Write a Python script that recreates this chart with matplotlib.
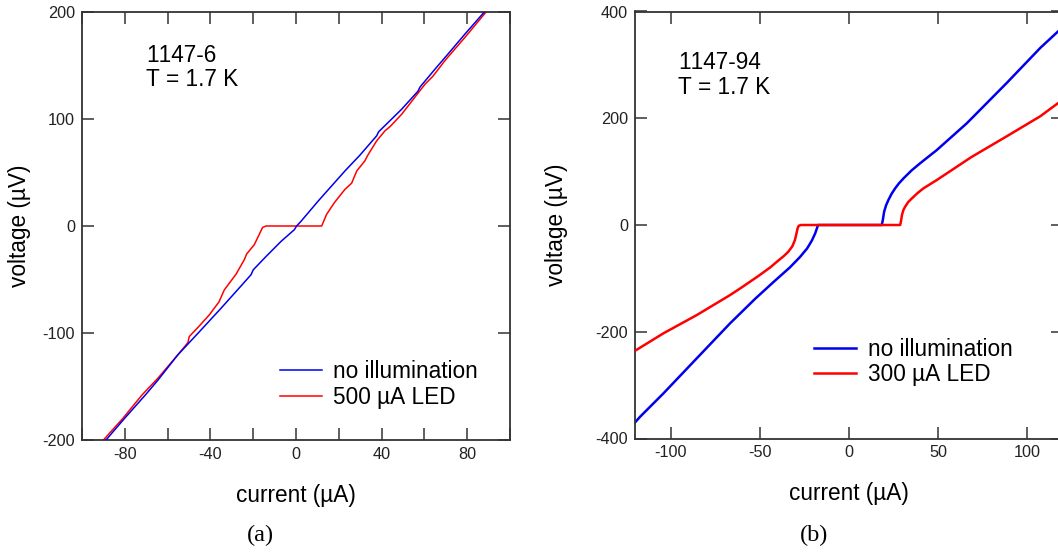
import matplotlib
matplotlib.use("Agg")
import matplotlib.pyplot as plt
from matplotlib.ticker import MultipleLocator

plt.rcParams['font.family'] = ['Liberation Sans', 'DejaVu Sans']
plt.rcParams['axes.unicode_minus'] = False
# no pair kerning, so "1147" keeps its normal digit spacing
plt.rcParams['text.kerning_factor'] = 6

# sample 1147-6, left panel (current in uA, voltage in uV)
dark6_i = [-88.8, -80.2, -70.0, -64.5, -55.3, -45.0, -35.0, -25.0, -21.0, -20.0,
           -14.0, -7.0, -0.8, 0.3, 2.3, 10.4, 16.0, 22.9, 30.0, 37.7, 38.6,
           49.4, 57.0, 58.0, 65.0, 72.0, 79.0, 88.3]
dark6_v = [-200.0, -180.0, -157.0, -144.0, -120.6, -98.5, -76.8, -54.5, -45.5, -41.0,
           -28.5, -14.4, -3.5, 0.0, 4.3, 23.4, 36.0, 51.5, 66.5, 84.3, 88.0,
           109.2, 126.0, 130.0, 146.7, 163.0, 179.5, 200.7]
led6_i = [-90.0, -81.0, -72.0, -64.6, -55.3, -50.5, -49.9, -45.0, -40.5, -36.0,
          -33.5, -28.0, -24.2, -23.0, -19.5, -15.6, -14.0, 12.0, 14.3, 18.0,
          22.9, 26.0, 28.4, 32.2, 33.5, 37.7, 41.6, 44.0, 49.4, 60.3, 64.0,
          69.6, 79.0, 89.1]
led6_v = [-200.0, -180.0, -158.0, -142.4, -120.6, -109.0, -103.4, -93.0, -83.0, -71.0,
          -59.7, -45.0, -31.6, -26.0, -17.5, -1.3, 0.0, 0.0, 10.9, 22.0,
          34.3, 40.0, 51.5, 60.9, 66.0, 79.6, 89.0, 93.0, 104.5, 132.6, 140.0,
          154.6, 176.4, 200.7]

# sample 1147-94, right panel
dark94_i = [-120.0, -117.2, -104.1, -85.4, -66.7, -52.7, -42.4, -33.0, -27.5, -23.5,
            -20.8, -19.0, -18.0, -17.4, 18.4, 19.0, 19.7, 20.8, 22.1, 23.8,
            25.9, 28.0, 30.6, 35.0, 39.9, 49.3, 66.1, 88.5, 107.3, 117.4, 120.0]
dark94_v = [-370.0, -359.4, -315.6, -249.9, -184.3, -138.5, -107.0, -79.0, -60.0, -44.0,
            -29.0, -16.0, -6.5, 0.0, 0.0, 10.0, 25.0, 37.0, 46.9, 58.0,
            68.8, 78.0, 87.5, 102.0, 115.7, 140.6, 190.7, 266.3, 331.9, 363.2, 372.0]
led94_i = [-120.0, -104.1, -85.4, -66.7, -61.1, -51.0, -44.0, -40.5, -36.5, -34.0,
           -31.8, -30.3, -29.4, -28.8, -28.2, -27.0, 28.7, 29.2, 29.7, 30.5,
           31.5, 33.2, 35.3, 38.5, 41.8, 49.3, 58.6, 68.5, 88.5, 107.3, 117.4, 120.0]
led94_v = [-235.7, -203.0, -168.8, -131.3, -119.0, -96.0, -79.0, -69.0, -58.0, -50.0,
           -40.0, -28.0, -15.0, -6.0, -1.5, 0.0, 0.0, 8.0, 18.8, 28.0,
           34.4, 43.0, 50.0, 60.0, 68.8, 84.4, 105.0, 127.0, 166.3, 203.8, 228.8, 233.0]

BLUE = '#0000ee'
RED = '#ff0000'
FRAME = '#333333'
BIG = 16.3


def style_axes(ax):
    for s in ax.spines.values():
        s.set_color(FRAME)
        s.set_linewidth(1.3)
    ax.tick_params(which='both', direction='in', top=True, right=True,
                   length=8.5, width=1.1, color=FRAME, labelsize=11.7,
                   labelcolor='#222222', pad=5)


fig = plt.figure(figsize=(10.58, 5.52), dpi=100)

# (a) sample 1147-6
ax1 = fig.add_axes([82 / 1058, 112 / 552, 428 / 1058, 428 / 552])
ax1.plot(led6_i, led6_v, color=RED, lw=1.1, label='500 µA LED', zorder=2)
ax1.plot(dark6_i, dark6_v, color=BLUE, lw=1.1, label='no illumination', zorder=3)
ax1.set_xlim(-100, 100)
ax1.set_ylim(-200, 200)
ax1.xaxis.set_major_locator(MultipleLocator(40))
ax1.xaxis.set_minor_locator(MultipleLocator(20))
ax1.yaxis.set_major_locator(MultipleLocator(100))
style_axes(ax1)
ax1.set_xlabel('current (µA)', fontsize=BIG)
ax1.set_ylabel('voltage (µV)', fontsize=BIG)
ax1.xaxis.set_label_coords(0.5, -0.103)
ax1.yaxis.set_label_coords(-0.118, 0.5)
ax1.text(0.1495, 0.884, '1147-6', transform=ax1.transAxes, fontsize=BIG,
         va='baseline', ha='left')
ax1.text(0.1495, 0.826, 'T = 1.7 K', transform=ax1.transAxes, fontsize=BIG,
         va='baseline', ha='left')
h, l = ax1.get_legend_handles_labels()
ax1.legend(h[::-1], l[::-1], loc='center left', bbox_to_anchor=(0.462, 0.130),
           frameon=False, fontsize=BIG, handlelength=1.85, handletextpad=0.5,
           labelspacing=0.15, borderpad=0, borderaxespad=0)

# (b) sample 1147-94
ax2 = fig.add_axes([635 / 1058, 113.5 / 552, 428 / 1058, 427 / 552])
ax2.plot(dark94_i, dark94_v, color=BLUE, lw=1.8, label='no illumination', zorder=2)
ax2.plot(led94_i, led94_v, color=RED, lw=1.8, label='300 µA LED', zorder=3)
ax2.set_xlim(-120, 120)
ax2.set_ylim(-400, 400)
ax2.xaxis.set_major_locator(MultipleLocator(50))
ax2.yaxis.set_major_locator(MultipleLocator(200))
style_axes(ax2)
ax2.set_xlabel('current (µA)', fontsize=BIG)
ax2.set_ylabel('voltage (µV)', fontsize=BIG)
ax2.xaxis.set_label_coords(0.5, -0.103)
ax2.yaxis.set_label_coords(-0.156, 0.5)
ax2.text(0.101, 0.866, '1147-94', transform=ax2.transAxes, fontsize=BIG,
         va='baseline', ha='left')
ax2.text(0.101, 0.806, 'T = 1.7 K', transform=ax2.transAxes, fontsize=BIG,
         va='baseline', ha='left')
ax2.legend(loc='center left', bbox_to_anchor=(0.419, 0.180),
           frameon=False, fontsize=BIG, handlelength=1.85, handletextpad=0.5,
           labelspacing=0.1, borderpad=0, borderaxespad=0)

fig.text(260 / 1058, 1 - 535 / 552, '(a)', fontsize=17.5, ha='center', va='center',
         family=['Liberation Serif', 'DejaVu Serif'])
fig.text(814 / 1058, 1 - 535 / 552, '(b)', fontsize=17.5, ha='center', va='center',
         family=['Liberation Serif', 'DejaVu Serif'])

fig.savefig('out.png', dpi=100)
